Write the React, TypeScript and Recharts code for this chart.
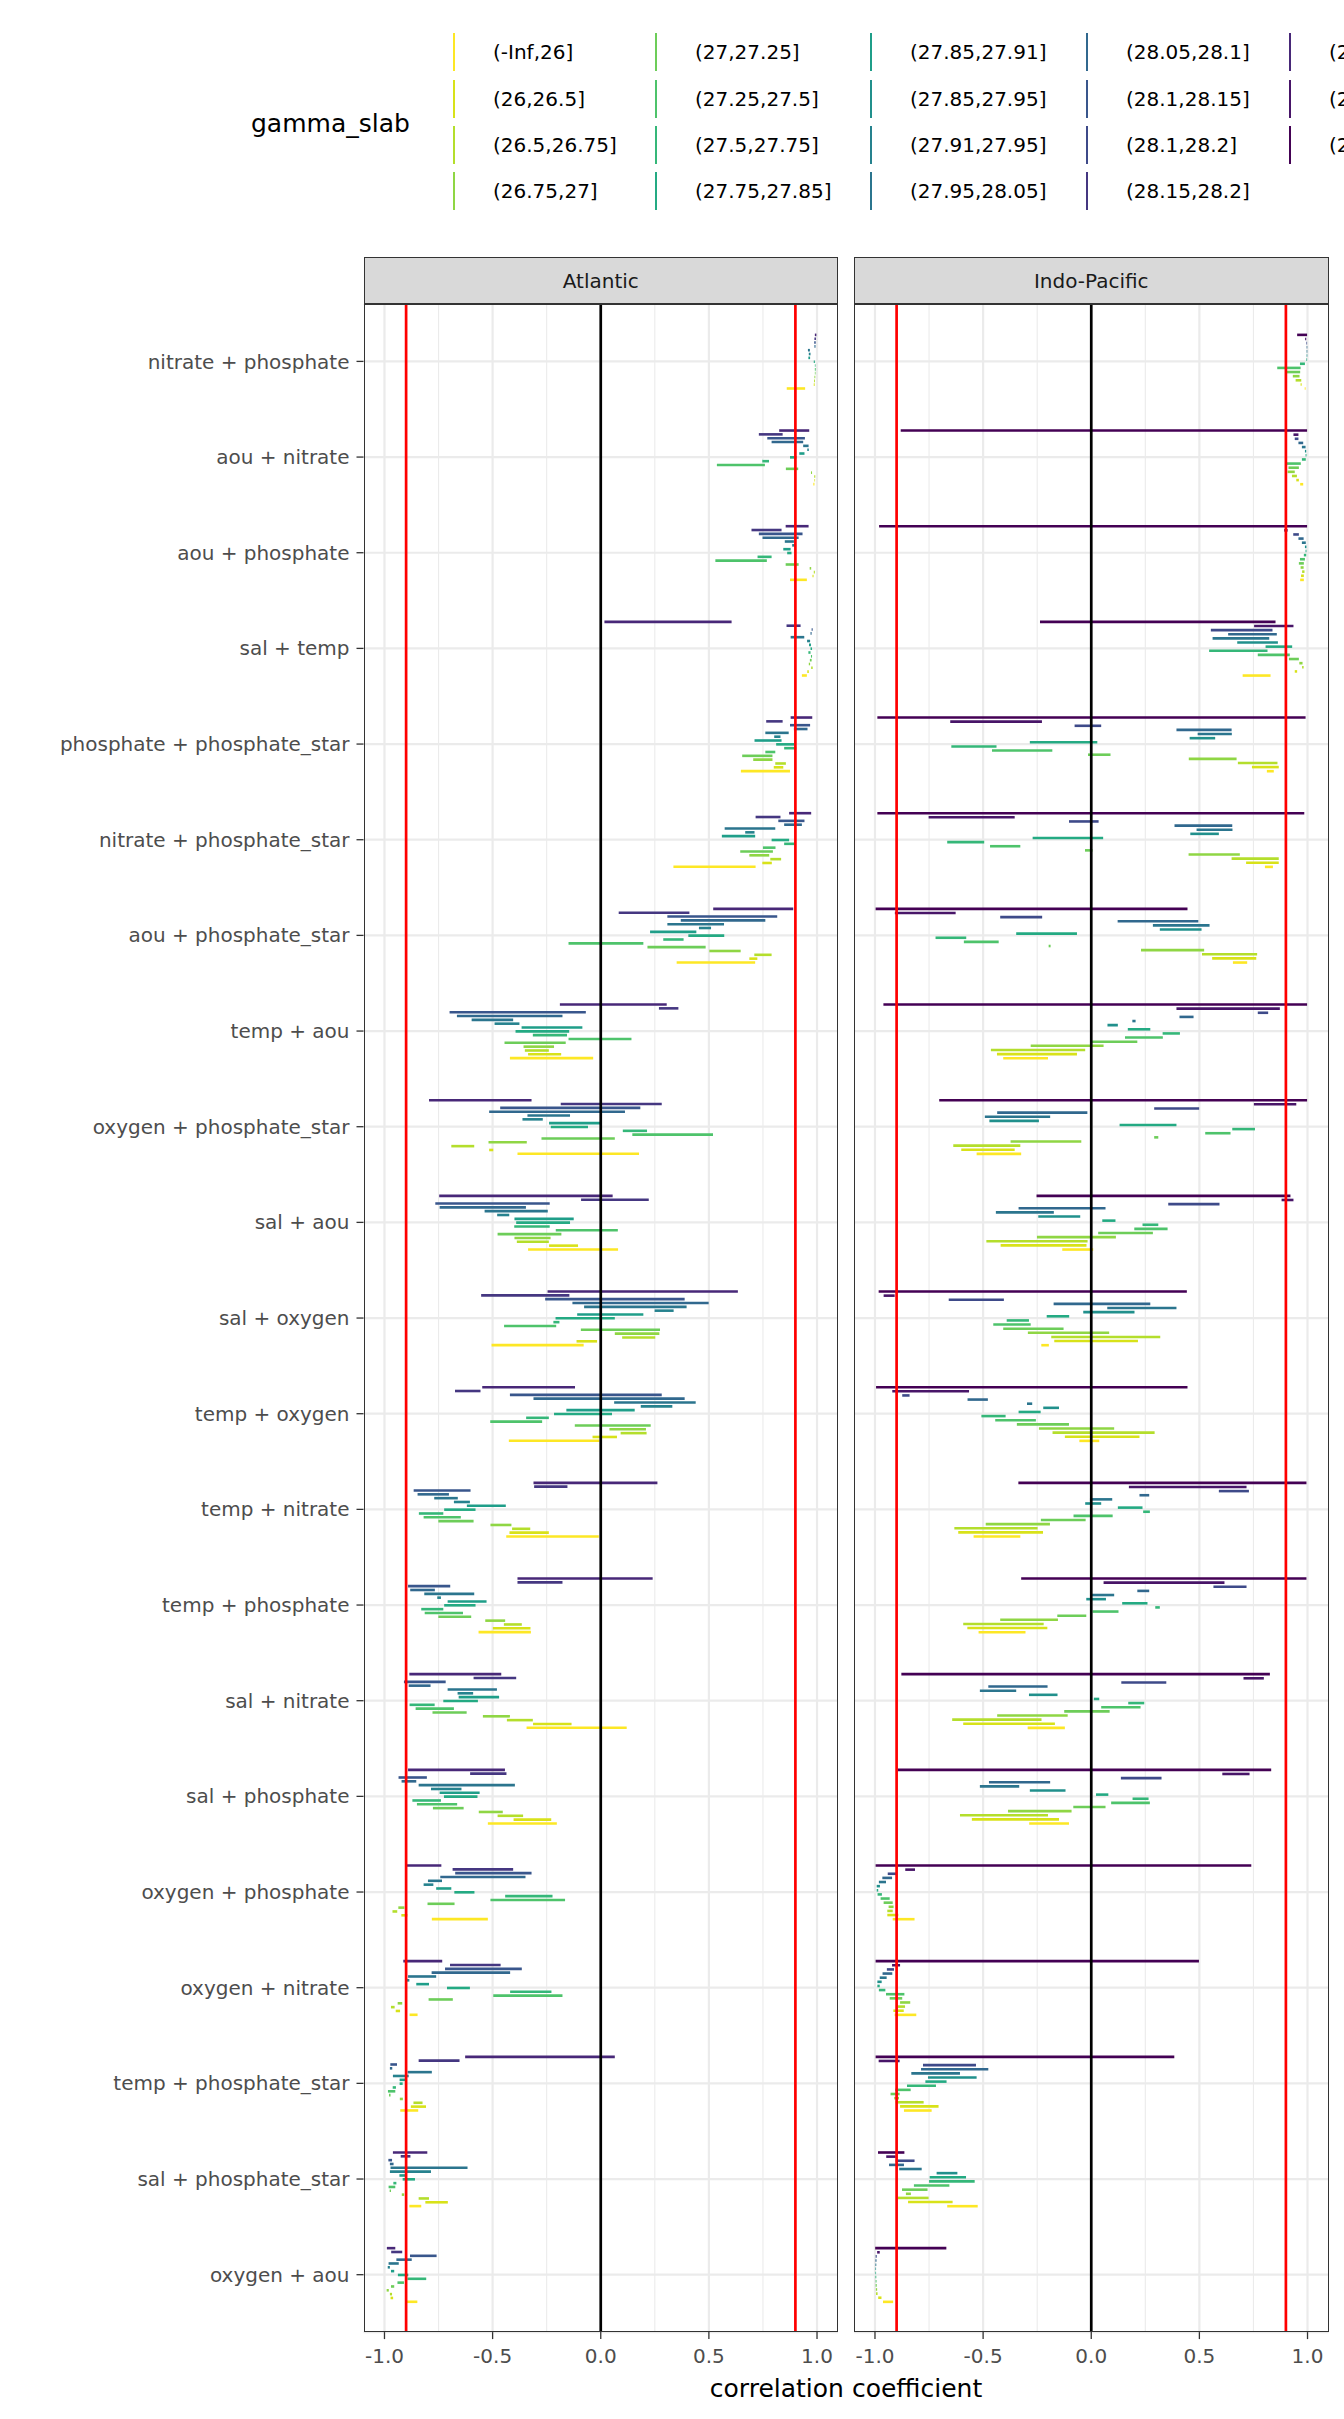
import React from "react";
import { BarChart, Bar, XAxis, YAxis, CartesianGrid, ReferenceLine } from "recharts";

// ---------- categories ----------
const pairs = [
  "nitrate + phosphate", "aou + nitrate", "aou + phosphate", "sal + temp",
  "phosphate + phosphate_star", "nitrate + phosphate_star", "aou + phosphate_star",
  "temp + aou", "oxygen + phosphate_star", "sal + aou", "sal + oxygen",
  "temp + oxygen", "temp + nitrate", "temp + phosphate", "sal + nitrate",
  "sal + phosphate", "oxygen + phosphate", "oxygen + nitrate",
  "temp + phosphate_star", "sal + phosphate_star", "oxygen + aou",
];

// ---------- gamma slabs (legend order) ----------
const slabs = [
  "(-Inf,26]", "(26,26.5]", "(26.5,26.75]", "(26.75,27]",
  "(27,27.25]", "(27.25,27.5]", "(27.5,27.75]", "(27.75,27.85]",
  "(27.85,27.91]", "(27.85,27.95]", "(27.91,27.95]", "(27.95,28.05]",
  "(28.05,28.1]", "(28.1,28.15]", "(28.1,28.2]", "(28.15,28.2]",
  "(28.2,28.3]", "(28.2,Inf]", "(28.3,Inf]",
];
const slabColors = [
  "#FDE725", "#D8E219", "#B4DE2C", "#8FD644", "#6DCD59", "#4EC36B", "#35B779",
  "#24AA83", "#1F9E89", "#21908C", "#26828E", "#2B758E", "#31688E", "#39568C",
  "#3E4A89", "#453781", "#482878", "#481568", "#440154",
];

// ---------- tick labels ----------
const majorTicks = [-1, -0.5, 0, 0.5, 1];
const minorTicks = [-0.75, -0.25, 0.25, 0.75];
const tickLabels = ["-1.0", "-0.5", "0.0", "0.5", "1.0"];
const refLinesRed = [-0.9, 0.9];

// ---------- Atlantic: correlation range [min, max] per pair ----------
const atl17 = [[0.99,0.997],[0.825,0.964],[0.855,0.961],[0.017,0.605],[0.878,0.978],[0.871,0.973],[0.52,0.89],[-0.189,0.305],[-0.794,-0.32],[-0.747,0.055],[-0.246,0.634],[-0.548,-0.119],[-0.311,0.262],[-0.385,0.24],[-0.885,-0.46],[-0.891,-0.443],[-0.904,-0.737],[-0.913,-0.733],[-0.627,0.065],[-0.961,-0.802],[-0.989,-0.95]];
const atl16 = [[0.988,0.995],[0.731,0.841],[0.697,0.836],[0.859,0.924],[0.765,0.841],[0.716,0.831],[0.083,0.41],[0.269,0.359],[-0.185,0.282],[-0.091,0.222],[-0.553,-0.145],[-0.674,-0.556],[-0.308,-0.154],[-0.385,-0.177],[-0.588,-0.391],[-0.604,-0.436],[-0.685,-0.405],[-0.697,-0.463],[-0.842,-0.653],[-0.925,-0.88],[-0.969,-0.918]];
const atl14 = [[0.987,0.994],[0.77,0.944],[0.731,0.933],[0.975,0.98],[0.875,0.968],[0.821,0.942],[0.308,0.816],[-0.699,-0.069],[-0.465,0.183],[-0.765,-0.236],[-0.257,0.388],[-0.42,0.282],[-0.865,-0.602],[-0.891,-0.696],[-0.91,-0.717],[-0.935,-0.804],[-0.673,-0.32],[-0.72,-0.365],[-0.973,-0.942],[-0.982,-0.965],[-0.882,-0.759]];
const atl13 = [[0.988,0.993],[0.79,0.936],[0.748,0.915],[0.97,0.975],[0.893,0.956],[0.848,0.93],[0.37,0.761],[-0.665,-0.177],[-0.516,0.112],[-0.745,-0.346],[-0.131,0.499],[-0.311,0.388],[-0.847,-0.702],[-0.881,-0.767],[-0.888,-0.787],[-0.921,-0.853],[-0.742,-0.348],[-0.782,-0.419],[-0.975,-0.964],[-0.975,-0.958],[-0.945,-0.874]];
const atl12 = [[0.958,0.967],[0.936,0.961],[0.851,0.893],[0.878,0.941],[0.761,0.869],[0.573,0.807],[0.308,0.57],[-0.597,-0.405],[-0.339,-0.142],[-0.537,-0.245],[-0.077,0.397],[0.062,0.439],[-0.77,-0.661],[-0.816,-0.585],[-0.708,-0.48],[-0.842,-0.397],[-0.799,-0.734],[-0.891,-0.761],[-0.893,-0.781],[-0.972,-0.616],[-0.981,-0.934]];
const atl11 = [[0.962,0.97],[0.955,0.962],[0.885,0.899],[0.954,0.968],[0.802,0.831],[0.668,0.711],[0.454,0.51],[-0.491,-0.376],[-0.362,-0.268],[-0.479,-0.423],[0.249,0.337],[0.185,0.331],[-0.679,-0.605],[-0.756,-0.739],[-0.662,-0.59],[-0.785,-0.644],[-0.819,-0.774],[-0.901,-0.885],[-0.961,-0.888],[-0.975,-0.785],[-0.985,-0.975]];
const atl09 = [[0.96,0.968],[0.918,0.942],[0.844,0.878],[0.963,0.972],[0.711,0.836],[0.56,0.714],[0.228,0.442],[-0.366,-0.085],[-0.239,0.002],[-0.399,-0.125],[-0.109,0.197],[-0.159,0.157],[-0.619,-0.439],[-0.708,-0.528],[-0.657,-0.47],[-0.745,-0.56],[-0.761,-0.691],[-0.853,-0.794],[-0.93,-0.904],[-0.931,-0.9],[-0.97,-0.955]];
const atl08 = [[0.985,0.99],[0.875,0.905],[0.862,0.882],[0.97,0.977],[0.811,0.895],[0.79,0.871],[0.405,0.571],[-0.394,-0.146],[-0.231,-0.059],[-0.391,-0.142],[-0.209,0.065],[-0.216,0.052],[-0.724,-0.579],[-0.724,-0.579],[-0.728,-0.568],[-0.725,-0.57],[-0.677,-0.584],[-0.711,-0.605],[-0.93,-0.916],[-0.916,-0.859],[-0.938,-0.89]];
const atl07 = [[0.99,0.993],[0.747,0.778],[0.725,0.79],[0.96,0.97],[0.848,0.904],[0.848,0.896],[0.289,0.383],[-0.314,-0.156],[0.102,0.214],[-0.4,-0.236],[-0.219,-0.191],[-0.345,-0.24],[-0.841,-0.728],[-0.83,-0.728],[-0.884,-0.768],[-0.871,-0.739],[-0.442,-0.223],[-0.419,-0.228],[-0.962,-0.947],[-0.959,-0.945],[-0.894,-0.807]];
const atl06 = [[0.99,0.994],[0.537,0.759],[0.53,0.768],[0.972,0.977],[0.761,0.807],[0.75,0.808],[-0.149,0.197],[-0.149,0.142],[0.146,0.519],[-0.208,0.079],[-0.447,-0.206],[-0.511,-0.271],[-0.819,-0.647],[-0.814,-0.637],[-0.856,-0.679],[-0.85,-0.664],[-0.51,-0.165],[-0.497,-0.177],[-0.984,-0.95],[-0.981,-0.95],[-0.94,-0.91]];
const atl05 = [[0.99,0.993],[0.856,0.913],[0.855,0.915],[0.967,0.975],[0.654,0.794],[0.645,0.796],[0.216,0.485],[-0.445,-0.162],[-0.274,0.065],[-0.477,-0.182],[-0.092,0.274],[-0.12,0.231],[-0.751,-0.588],[-0.751,-0.599],[-0.778,-0.62],[-0.776,-0.634],[-0.801,-0.676],[-0.796,-0.684],[-0.979,-0.972],[-0.976,-0.97],[-0.97,-0.955]];
const atl04 = [[0.988,0.992],[0.972,0.977],[0.966,0.973],[0.962,0.968],[0.705,0.794],[0.687,0.779],[0.502,0.647],[-0.357,-0.216],[-0.519,-0.342],[-0.399,-0.232],[0.065,0.271],[0.04,0.209],[-0.51,-0.413],[-0.534,-0.442],[-0.545,-0.42],[-0.564,-0.453],[-0.936,-0.908],[-0.939,-0.918],[-0.929,-0.915],[-0.92,-0.909],[-0.99,-0.98]];
const atl03 = [[0.986,0.99],[0.987,0.992],[0.985,0.99],[0.973,0.98],[0.807,0.856],[0.784,0.834],[0.71,0.79],[-0.351,-0.24],[-0.691,-0.585],[-0.388,-0.24],[0.099,0.252],[0.092,0.212],[-0.41,-0.326],[-0.448,-0.365],[-0.434,-0.314],[-0.477,-0.359],[-0.963,-0.941],[-0.97,-0.953],[-0.866,-0.824],[-0.842,-0.794],[-0.975,-0.965]];
const atl02 = [[0.985,0.989],[0.988,0.991],[0.979,0.984],[0.955,0.962],[0.8,0.844],[0.747,0.791],[0.687,0.724],[-0.336,-0.183],[-0.516,-0.497],[-0.239,-0.105],[-0.112,-0.017],[-0.038,0.075],[-0.422,-0.24],[-0.499,-0.325],[-0.313,-0.135],[-0.403,-0.229],[-0.922,-0.894],[-0.948,-0.928],[-0.878,-0.808],[-0.811,-0.707],[-0.972,-0.96]];
const atl01 = [[0.86,0.945],[0.983,0.988],[0.875,0.953],[0.93,0.953],[0.648,0.875],[0.336,0.716],[0.351,0.714],[-0.42,-0.035],[-0.385,0.177],[-0.336,0.08],[-0.505,-0.079],[-0.425,-0.006],[-0.437,-0.009],[-0.565,-0.323],[-0.343,0.12],[-0.522,-0.203],[-0.781,-0.522],[-0.884,-0.847],[-0.927,-0.844],[-0.885,-0.83],[-0.903,-0.848]];

// ---------- Indo-Pacific ----------
const ind19 = [[0.952,0.998],[-0.881,0.998],[-0.981,0.998],[-0.237,0.852],[-0.989,0.991],[-0.989,0.985],[-0.997,0.445],[-0.961,0.998],[-0.703,0.998],[-0.253,0.921],[-0.983,0.442],[-0.995,0.445],[-0.337,0.995],[-0.324,0.995],[-0.878,0.826],[-0.895,0.832],[-0.997,0.74],[-0.997,0.498],[-0.997,0.384],[-0.986,-0.864],[-0.999,-0.67]];
const ind18 = [[0.989,0.994],[0.935,0.958],[0.892,0.908],[0.753,0.935],[-0.652,-0.228],[-0.752,-0.354],[-0.908,-0.627],[0.394,0.872],[0.752,0.948],[0.88,0.935],[-0.96,-0.909],[-0.92,-0.565],[0.174,0.718],[0.057,0.616],[0.704,0.798],[0.606,0.732],[-0.86,-0.815],[-0.921,-0.884],[-0.983,-0.886],[-0.948,-0.904],[-0.99,-0.978]];
const ind15 = [[0.995,0.998],[0.941,0.958],[0.934,0.96],[0.553,0.838],[-0.077,0.046],[-0.103,0.034],[-0.421,-0.227],[0.77,0.818],[0.291,0.499],[0.356,0.593],[-0.659,-0.404],[-0.874,-0.84],[0.59,0.729],[0.565,0.718],[0.139,0.347],[0.137,0.325],[-0.941,-0.9],[-0.945,-0.912],[-0.778,-0.533],[-0.904,-0.817],[-0.997,-0.992]];
const ind13 = [[0.996,0.999],[0.958,0.98],[0.958,0.982],[0.633,0.858],[0.394,0.649],[0.385,0.652],[0.122,0.495],[0.408,0.473],[-0.435,-0.018],[-0.336,0.066],[-0.174,0.273],[-0.572,-0.478],[0.223,0.268],[0.213,0.268],[-0.476,-0.202],[-0.473,-0.19],[-0.966,-0.921],[-0.965,-0.92],[-0.787,-0.476],[-0.935,-0.866],[-0.998,-0.993]];
const ind12 = [[0.996,0.999],[0.974,0.991],[0.974,0.992],[0.561,0.823],[0.492,0.65],[0.487,0.653],[0.285,0.547],[0.19,0.205],[-0.492,-0.19],[-0.441,-0.173],[0.074,0.394],[-0.297,-0.273],[-0.006,0.097],[0.0,0.106],[-0.515,-0.347],[-0.515,-0.333],[-0.982,-0.949],[-0.978,-0.946],[-0.832,-0.607],[-0.888,-0.784],[-0.998,-0.994]];
const ind10 = [[0.996,0.999],[0.988,0.994],[0.988,0.995],[0.675,0.863],[0.455,0.573],[0.458,0.59],[0.317,0.51],[0.075,0.123],[-0.471,-0.242],[-0.245,-0.051],[-0.037,0.2],[-0.222,-0.149],[-0.028,0.046],[-0.023,0.068],[-0.288,-0.156],[-0.284,-0.119],[-0.992,-0.977],[-0.989,-0.969],[-0.755,-0.53],[-0.715,-0.619],[-0.998,-0.995]];
const ind08 = [[0.995,0.998],[0.991,0.995],[0.991,0.995],[0.806,0.929],[-0.284,0.028],[-0.271,0.055],[-0.347,-0.066],[0.169,0.273],[0.131,0.394],[0.051,0.112],[-0.206,-0.102],[-0.336,-0.234],[0.123,0.237],[0.143,0.26],[0.012,0.037],[0.022,0.079],[-0.992,-0.985],[-0.989,-0.978],[-0.767,-0.669],[-0.747,-0.579],[-0.998,-0.995]];
const ind07 = [[0.965,0.988],[0.974,0.992],[0.983,0.994],[0.545,0.815],[-0.647,-0.438],[-0.666,-0.495],[-0.72,-0.578],[0.33,0.41],[0.652,0.757],[0.237,0.31],[-0.391,-0.288],[-0.508,-0.396],[0.24,0.271],[0.296,0.317],[0.171,0.245],[0.191,0.265],[-0.988,-0.968],[-0.982,-0.952],[-0.852,-0.718],[-0.75,-0.539],[-0.998,-0.994]];
const ind06 = [[0.86,0.968],[0.897,0.969],[0.965,0.988],[0.77,0.918],[-0.459,-0.18],[-0.468,-0.328],[-0.589,-0.428],[0.156,0.331],[0.527,0.644],[0.199,0.353],[-0.453,-0.28],[-0.444,-0.256],[-0.082,0.099],[0.006,0.126],[0.046,0.228],[0.092,0.271],[-0.974,-0.932],[-0.949,-0.864],[-0.906,-0.835],[-0.82,-0.656],[-0.997,-0.993]];
const ind05 = [[0.901,0.966],[0.912,0.96],[0.96,0.983],[0.914,0.96],[-0.015,0.089],[-0.029,0.006],[-0.197,-0.188],[0.0,0.213],[0.291,0.31],[0.032,0.285],[-0.407,-0.128],[-0.344,-0.103],[-0.233,-0.026],[-0.157,-0.023],[-0.125,0.085],[-0.083,0.066],[-0.96,-0.918],[-0.932,-0.874],[-0.928,-0.886],[-0.875,-0.757],[-0.997,-0.992]];
const ind04 = [[0.932,0.963],[0.908,0.941],[0.968,0.982],[0.962,0.977],[0.451,0.672],[0.45,0.687],[0.23,0.522],[-0.28,0.057],[-0.373,-0.046],[-0.251,0.114],[-0.293,0.083],[-0.242,0.106],[-0.488,-0.191],[-0.421,-0.154],[-0.435,-0.109],[-0.385,-0.091],[-0.937,-0.914],[-0.884,-0.837],[-0.911,-0.889],[-0.857,-0.834],[-0.996,-0.99]];
const ind03 = [[0.945,0.971],[0.928,0.951],[0.975,0.986],[0.975,0.982],[0.678,0.861],[0.649,0.867],[0.512,0.767],[-0.464,-0.028],[-0.638,-0.328],[-0.485,-0.017],[-0.185,0.319],[-0.179,0.293],[-0.633,-0.248],[-0.592,-0.22],[-0.643,-0.23],[-0.607,-0.2],[-0.943,-0.918],[-0.897,-0.861],[-0.904,-0.775],[-0.897,-0.752],[-0.995,-0.988]];
const ind02 = [[0.968,0.973],[0.948,0.96],[0.97,0.983],[0.941,0.952],[0.743,0.867],[0.716,0.867],[0.559,0.763],[-0.436,-0.066],[-0.601,-0.354],[-0.419,-0.022],[-0.171,0.216],[-0.122,0.223],[-0.615,-0.223],[-0.573,-0.203],[-0.592,-0.168],[-0.552,-0.149],[-0.943,-0.892],[-0.915,-0.867],[-0.884,-0.706],[-0.847,-0.641],[-0.985,-0.97]];
const ind01 = [[0.987,0.991],[0.966,0.98],[0.966,0.983],[0.7,0.829],[0.812,0.844],[0.803,0.84],[0.655,0.721],[-0.407,-0.2],[-0.53,-0.324],[-0.134,0.009],[-0.231,-0.196],[-0.055,0.037],[-0.544,-0.328],[-0.521,-0.304],[-0.294,-0.122],[-0.287,-0.103],[-0.918,-0.817],[-0.909,-0.809],[-0.866,-0.738],[-0.666,-0.525],[-0.963,-0.916]];

// series per basin, listed top-to-bottom in each dodge group (1-based slab level)
const atlanticSeries = [
  { level: 17, values: atl17 }, { level: 16, values: atl16 }, { level: 14, values: atl14 },
  { level: 13, values: atl13 }, { level: 12, values: atl12 }, { level: 11, values: atl11 },
  { level: 9, values: atl09 }, { level: 8, values: atl08 }, { level: 7, values: atl07 },
  { level: 6, values: atl06 }, { level: 5, values: atl05 }, { level: 4, values: atl04 },
  { level: 3, values: atl03 }, { level: 2, values: atl02 }, { level: 1, values: atl01 },
];
const indoSeries = [
  { level: 19, values: ind19 }, { level: 18, values: ind18 }, { level: 15, values: ind15 },
  { level: 13, values: ind13 }, { level: 12, values: ind12 }, { level: 10, values: ind10 },
  { level: 8, values: ind08 }, { level: 7, values: ind07 }, { level: 6, values: ind06 },
  { level: 5, values: ind05 }, { level: 4, values: ind04 }, { level: 3, values: ind03 },
  { level: 2, values: ind02 }, { level: 1, values: ind01 },
];

function buildTable(series: { level: number; values: number[][] }[]) {
  return pairs.map((pair, i) => {
    const row: Record<string, any> = { pair };
    series.forEach((s) => {
      row["s" + s.level] = s.values[i];
    });
    return row;
  });
}
const atlanticData = buildTable(atlanticSeries);
const indoData = buildTable(indoSeries);

// ---------- layout ----------
const FONT = "'DejaVu Sans', Verdana, sans-serif";
const XLIM = 1.097;
const PANEL_TOP = 303.6;
const PANEL_H = 2028.1;
const PANEL_W = 474.5;
const YAXIS_W = 363.5;
const XAXIS_H = 50;
const CAT_PAD = 9.57;
const BAR = 2.6;

function Panel(props: {
  data: any[];
  series: { level: number }[];
  showY: boolean;
  left: number;
  gap: number;
}) {
  const { data, series, showY, left, gap } = props;
  const width = showY ? YAXIS_W + PANEL_W : PANEL_W;
  return (
    <div style={{ position: "absolute", left, top: PANEL_TOP }}>
      <BarChart
        layout="vertical"
        width={width}
        height={PANEL_H + XAXIS_H}
        data={data}
        margin={{ top: 0, right: 0, bottom: 0, left: 0 }}
        barSize={BAR}
        barGap={gap}
        barCategoryGap={0}
      >
        <CartesianGrid
          stroke="#EBEBEB"
          strokeWidth={1.1}
          horizontal={false}
          verticalValues={minorTicks}
        />
        <CartesianGrid stroke="#EBEBEB" strokeWidth={2.2} verticalValues={majorTicks} />
        <XAxis
          type="number"
          domain={[-XLIM, XLIM]}
          ticks={majorTicks}
          tickFormatter={(v: number) => tickLabels[majorTicks.indexOf(v)] ?? String(v)}
          axisLine={false}
          tickLine={{ stroke: "#333333", strokeWidth: 1.3 }}
          tickSize={7}
          tickMargin={10}
          height={XAXIS_H}
          interval={0}
          tick={{ fontSize: 20, fill: "#4D4D4D", fontFamily: FONT }}
        />
        <YAxis
          type="category"
          dataKey="pair"
          hide={!showY}
          width={showY ? YAXIS_W : 0}
          padding={{ top: CAT_PAD, bottom: CAT_PAD }}
          axisLine={false}
          tickLine={{ stroke: "#333333", strokeWidth: 1.3 }}
          tickSize={7}
          tickMargin={7}
          interval={0}
          tick={{ fontSize: 20, fill: "#4D4D4D", fontFamily: FONT }}
        />
        {series.map((s) => (
          <Bar
            key={s.level}
            dataKey={"s" + s.level}
            fill={slabColors[s.level - 1]}
            isAnimationActive={false}
          />
        ))}
        <ReferenceLine x={0} stroke="#000000" strokeWidth={2.7} />
        {refLinesRed.map((v) => (
          <ReferenceLine key={v} x={v} stroke="#FF0000" strokeWidth={2.7} />
        ))}
      </BarChart>
      <div
        style={{
          position: "absolute",
          left: showY ? YAXIS_W : 0,
          top: 0,
          width: PANEL_W,
          height: PANEL_H,
          border: "1.4px solid #333333",
          boxSizing: "border-box",
          pointerEvents: "none",
        }}
      />
    </div>
  );
}

function Strip(props: { left: number; label: string }) {
  return (
    <div
      style={{
        position: "absolute",
        left: props.left,
        top: 257.3,
        width: PANEL_W,
        height: 47,
        background: "#D9D9D9",
        border: "1.4px solid #333333",
        boxSizing: "border-box",
        display: "flex",
        alignItems: "center",
        justifyContent: "center",
        fontFamily: FONT,
        fontSize: 20,
        color: "#1A1A1A",
      }}
    >
      {props.label}
    </div>
  );
}

const legendColX = [454, 656, 871, 1087, 1290];
const legendRowY = [52, 99, 145, 191];

function Legend() {
  return (
    <>
      <div
        style={{
          position: "absolute",
          left: 251,
          top: 123,
          transform: "translateY(-50%)",
          fontFamily: FONT,
          fontSize: 25,
          lineHeight: 1,
          color: "#000",
          whiteSpace: "nowrap",
        }}
      >
        gamma_slab
      </div>
      {slabs.map((label, i) => {
        const x = legendColX[Math.floor(i / 4)];
        const y = legendRowY[i % 4];
        return (
          <React.Fragment key={label}>
            <div
              style={{
                position: "absolute",
                left: x - 1.3,
                top: y - 19,
                width: 2.6,
                height: 38,
                background: slabColors[i],
              }}
            />
            <div
              style={{
                position: "absolute",
                left: x + 39,
                top: y,
                transform: "translateY(-50%)",
                fontFamily: FONT,
                fontSize: 20,
                lineHeight: 1,
                color: "#000",
                whiteSpace: "nowrap",
              }}
            >
              {label}
            </div>
          </React.Fragment>
        );
      })}
    </>
  );
}

export default function App() {
  return (
    <div
      style={{
        position: "absolute",
        left: 0,
        top: 0,
        width: 1344,
        height: 2419,
        overflow: "hidden",
        background: "#FFFFFF",
        fontFamily: FONT,
      }}
    >
      <Legend />
      <Strip left={YAXIS_W} label="Atlantic" />
      <Strip left={854} label="Indo-Pacific" />
      <Panel data={atlanticData} series={atlanticSeries} showY={true} left={0} gap={1.23} />
      <Panel data={indoData} series={indoSeries} showY={false} left={854} gap={1.53} />
      <div
        style={{
          position: "absolute",
          left: 846,
          top: 2388,
          transform: "translate(-50%, -50%)",
          fontFamily: FONT,
          fontSize: 25,
          lineHeight: 1,
          color: "#000",
          whiteSpace: "nowrap",
        }}
      >
        correlation coefficient
      </div>
    </div>
  );
}
